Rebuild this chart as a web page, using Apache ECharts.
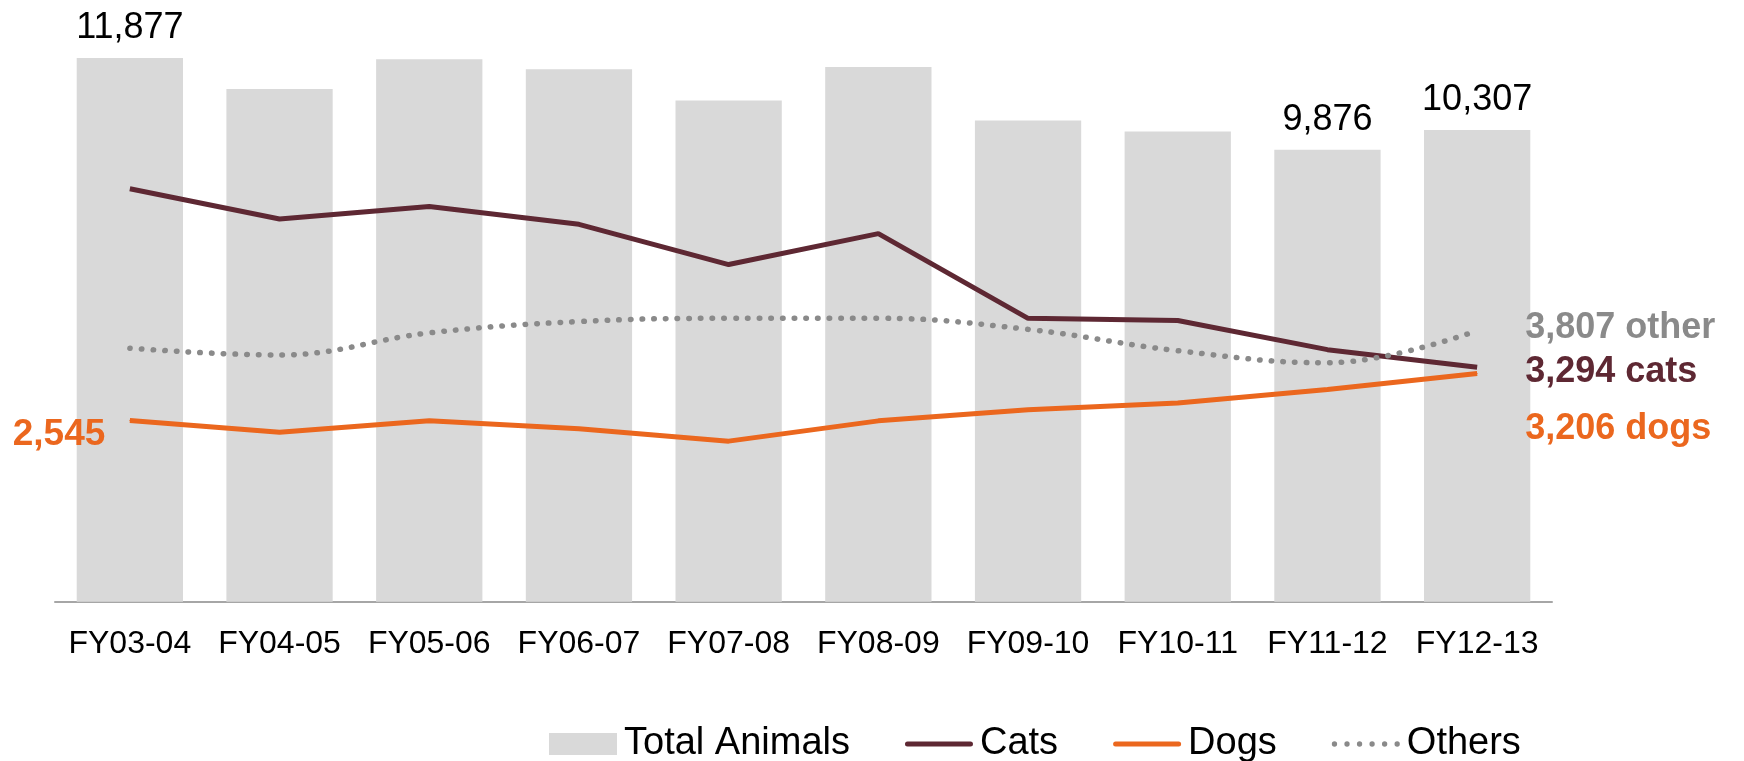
<!DOCTYPE html>
<html>
<head>
<meta charset="utf-8">
<script src="https://cdn.jsdelivr.net/npm/echarts@6/dist/echarts.min.js"></script>
<style>
html,body{margin:0;padding:0;background:#fff;}
#chart{width:1744px;height:761px;}
</style>
</head>
<body>
<div id="chart"></div>
<script>
const categories = ['FY03-04','FY04-05','FY05-06','FY06-07','FY07-08','FY08-09','FY09-10','FY10-11','FY11-12','FY12-13'];
const totalAnimals = [11877, 11200, 11850, 11630, 10950, 11680, 10510, 10270, 9876, 10307];
const cats = [5800, 5375, 5550, 5300, 4735, 5170, 3980, 3950, 3540, 3294];
const dogs = [2545, 2380, 2540, 2430, 2255, 2540, 2695, 2790, 2980, 3206];
const others = [3560, 3465, 3775, 3935, 3980, 3980, 3825, 3525, 3355, 3807];
const labelledBars = [0, 8, 9];

const FONT = '"Liberation Sans", Arial, sans-serif';
const fmt = v => v.toLocaleString('en-US');
const C_BAR = '#D9D9D9', C_CAT = '#5E2833', C_DOG = '#EB671E', C_OTH = '#8A8A8A';

const LINE_ICON = 'path://M2.5,0H65.5A2.5,2.5,0,0,1,65.5,5H2.5A2.5,2.5,0,0,1,2.5,0Z';
let dots = '';
for (let k = 0; k < 6; k++) {
  const cx = 2.5 + k * 11.8;
  dots += 'M' + cx + ',0A2.5,2.5,0,1,1,' + cx + ',5A2.5,2.5,0,1,1,' + cx + ',0Z';
}
const DOT_ICON = 'path://' + dots;

const chart = echarts.init(document.getElementById('chart'));
chart.setOption({
  animation: false,
  textStyle: { fontFamily: FONT },
  grid: { left: 55, right: 192, top: 52.4, bottom: 159.3, containLabel: false },
  legend: {
    left: 544, top: 720,
    itemWidth: 68, itemHeight: 22, itemGap: 55,
    textStyle: { fontFamily: FONT, fontSize: 38, color: '#000', padding: [0, 0, 0, 2] },
    data: [
      { name: 'Total Animals', icon: 'rect' },
      { name: 'Cats', icon: LINE_ICON },
      { name: 'Dogs', icon: LINE_ICON },
      { name: 'Others', icon: DOT_ICON }
    ]
  },
  xAxis: {
    type: 'category', data: categories,
    axisLine: { lineStyle: { color: '#A6A6A6', width: 2 } },
    axisTick: { show: false },
    axisLabel: { interval: 0, fontFamily: FONT, fontSize: 32, color: '#000', margin: 26 }
  },
  yAxis: [
    { type: 'value', min: 0, max: 12000, show: false, splitLine: { show: false } },
    { type: 'value', min: 0, max: 7715, show: false, splitLine: { show: false } }
  ],
  series: [
    {
      name: 'Total Animals', type: 'bar', yAxisIndex: 0, barWidth: '71%',
      itemStyle: { color: C_BAR },
      data: totalAnimals.map((v, i) => labelledBars.includes(i) ? {
        value: v,
        label: { show: true, position: 'top', distance: 12, formatter: p => fmt(p.value),
                 fontFamily: FONT, fontSize: 36, color: '#000' }
      } : v)
    },
    {
      name: 'Cats', type: 'line', yAxisIndex: 1, symbol: 'none',
      lineStyle: { color: C_CAT, width: 5 }, itemStyle: { color: C_CAT },
      data: cats,
      endLabel: { show: true, distance: 0, offset: [48, 5], formatter: p => fmt(p.value) + ' cats',
                  fontFamily: FONT, fontSize: 36, fontWeight: 'bold', color: C_CAT }
    },
    {
      name: 'Dogs', type: 'line', yAxisIndex: 1, symbol: 'circle', symbolSize: 1, showSymbol: true,
      lineStyle: { color: C_DOG, width: 5 }, itemStyle: { color: C_DOG },
      data: dogs.map((v, i) => i === 0 ? {
        value: v,
        label: { show: true, position: 'left', distance: 24, offset: [0, 14], formatter: p => fmt(p.value),
                 fontFamily: FONT, fontSize: 37, fontWeight: 'bold', color: C_DOG }
      } : v),
      endLabel: { show: true, distance: 0, offset: [48, 56], formatter: p => fmt(p.value) + ' dogs',
                  fontFamily: FONT, fontSize: 36, fontWeight: 'bold', color: C_DOG }
    },
    {
      name: 'Others', type: 'line', yAxisIndex: 1, symbol: 'none', smooth: 0.4,
      lineStyle: { color: C_OTH, width: 5.5, type: [0.5, 11.2], cap: 'round' }, itemStyle: { color: C_OTH },
      data: others,
      endLabel: { show: true, distance: 0, offset: [48, -3], formatter: p => fmt(p.value) + ' other',
                  fontFamily: FONT, fontSize: 36, fontWeight: 'bold', color: C_OTH }
    }
  ]
});
</script>
</body>
</html>
